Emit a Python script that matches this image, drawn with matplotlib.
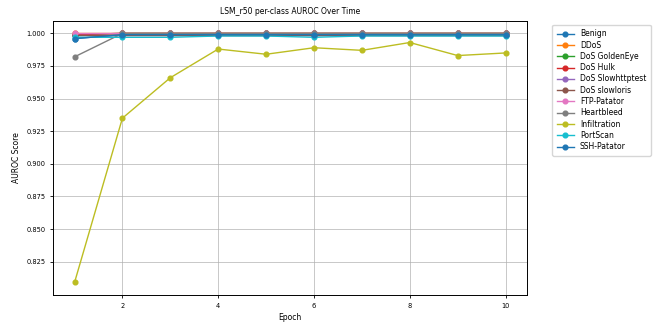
import matplotlib.pyplot as plt

epochs = [1, 2, 3, 4, 5, 6, 7, 8, 9, 10]

classes = ["Benign", "DDoS", "DoS GoldenEye", "DoS Hulk", "DoS Slowhttptest",
           "DoS slowloris", "FTP-Patator", "Heartbleed", "Infiltration",
           "PortScan", "SSH-Patator"]

benign = [0.996, 0.999, 0.999, 0.999, 0.999, 0.999, 0.999, 0.999, 0.999, 0.999]
ddos = [1.000, 1.000, 1.000, 1.000, 1.000, 1.000, 1.000, 1.000, 1.000, 1.000]
goldeneye = [0.999, 1.000, 1.000, 1.000, 1.000, 1.000, 1.000, 1.000, 1.000, 1.000]
hulk = [0.999, 1.000, 1.000, 1.000, 1.000, 1.000, 1.000, 1.000, 1.000, 1.000]
slowhttptest = [0.999, 0.999, 0.999, 0.999, 0.999, 0.999, 0.999, 0.999, 0.999, 0.999]
slowloris = [0.999, 0.999, 0.999, 0.999, 0.999, 0.999, 0.999, 0.999, 0.999, 0.999]
ftp_patator = [1.000, 1.000, 1.000, 1.000, 1.000, 1.000, 1.000, 1.000, 1.000, 1.000]
heartbleed = [0.982, 1.000, 1.000, 1.000, 1.000, 1.000, 1.000, 1.000, 1.000, 1.000]
infiltration = [0.809, 0.935, 0.966, 0.988, 0.984, 0.989, 0.987, 0.993, 0.983, 0.985]
portscan = [0.997, 0.997, 0.997, 0.998, 0.998, 0.997, 0.998, 0.998, 0.998, 0.998]
ssh_patator = [0.996, 0.999, 0.999, 0.999, 0.999, 0.999, 0.999, 0.999, 0.999, 0.999]

series = [benign, ddos, goldeneye, hulk, slowhttptest, slowloris,
          ftp_patator, heartbleed, infiltration, portscan, ssh_patator]

fig = plt.figure(figsize=(6.54, 3.22), dpi=100)
ax = fig.add_axes([0.081, 0.084, 0.725, 0.851])

for name, vals in zip(classes, series):
    ax.plot(epochs, vals, marker="o", markersize=3.4, linewidth=1.0, label=name)

ax.set_title("LSM_r50 per-class AUROC Over Time", fontsize=5.5, pad=5)
ax.set_xlabel("Epoch", fontsize=5.5, labelpad=3)
ax.set_ylabel("AUROC Score", fontsize=5.5, labelpad=4)
ax.tick_params(labelsize=4.8, length=2, width=0.6)
ax.set_yticks([0.825, 0.850, 0.875, 0.900, 0.925, 0.950, 0.975, 1.000])
ax.set_xticks([2, 4, 6, 8, 10])
ax.grid(True, alpha=0.7, linewidth=0.7)
for s in ax.spines.values():
    s.set_linewidth(0.7)
ax.legend(loc="upper left", bbox_to_anchor=(1.045, 1.0), fontsize=5.5,
          handlelength=2.2, labelspacing=0.3, borderpad=0.6)

plt.savefig("out.png", dpi=100)
plt.close()
